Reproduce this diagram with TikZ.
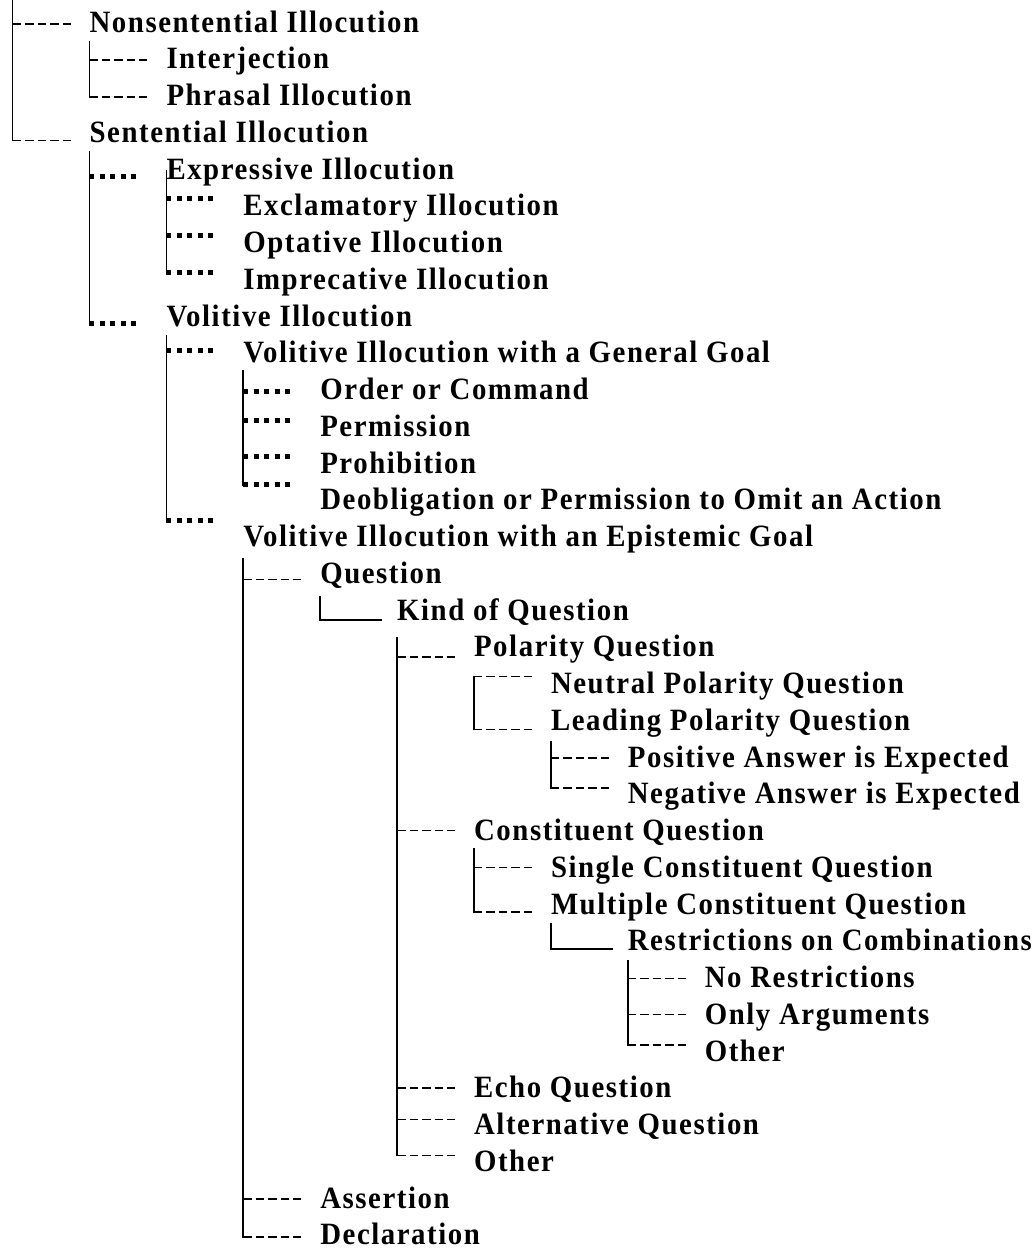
\documentclass[tikz,border=0pt]{standalone}
\usepackage{fontspec}
\newfontfamily\treefont[FakeStretch=0.93, LetterSpace=5]{Liberation Serif}
\usetikzlibrary{calc}

\tikzset{
	item/.style={anchor=base west, inner sep=0pt,
		font=\treefont\bfseries\fontsize{31}{35}\selectfont},
	trunk/.style={line width=1.6pt, line cap=rect},
	dashlink/.style={line width=1.5pt, dash pattern=on 8.5pt off 4pt},
	dotlink/.style={line width=5pt, dash pattern=on 5pt off 5.5pt},
}

% [length]{style}{parent}{child}{height above the child's baseline}
\newcommand{\link}[5][58]{%
	\draw[#2] (#3.base west |- #4.base west) ++(0,-#5) coordinate (#4-in)
		-- ++(#1,0);}

\begin{document}
\begin{tikzpicture}[x=1pt, y=-1pt]
	\def \tab {76.9}
	\def \gap {36.75}

	\useasboundingbox (0,0) rectangle (1035,1251);

	\node[item] (root) at (12.5,0) {};

	\node[item] (nonsent)  at ({\tab*1 + 12.5}, {\gap*0 + 32})  {Nonsentential Illocution};
	\node[item] (interj)   at ({\tab*2 + 12.5}, {\gap*1 + 32})  {Interjection};
	\node[item] (phrasal)  at ({\tab*2 + 12.5}, {\gap*2 + 32})  {Phrasal Illocution};
	\node[item] (sent)     at ({\tab*1 + 12.5}, {\gap*3 + 32})  {Sentential Illocution};
	\node[item] (express)  at ({\tab*2 + 12.5}, {\gap*4 + 32})  {Expressive Illocution};
	\node[item] (exclam)   at ({\tab*3 + 12.5}, {\gap*5 + 32})  {Exclamatory Illocution};
	\node[item] (optat)    at ({\tab*3 + 12.5}, {\gap*6 + 32})  {Optative Illocution};
	\node[item] (imprec)   at ({\tab*3 + 12.5}, {\gap*7 + 32})  {Imprecative Illocution};
	\node[item] (volit)    at ({\tab*2 + 12.5}, {\gap*8 + 32})  {Volitive Illocution};
	\node[item] (general)  at ({\tab*3 + 12.5}, {\gap*9 + 32})  {Volitive Illocution with a General Goal};
	\node[item] (order)    at ({\tab*4 + 12.5}, {\gap*10 + 32}) {Order or Command};
	\node[item] (permit)   at ({\tab*4 + 12.5}, {\gap*11 + 32}) {Permission};
	\node[item] (prohib)   at ({\tab*4 + 12.5}, {\gap*12 + 32}) {Prohibition};
	\node[item] (deoblig)  at ({\tab*4 + 12.5}, {\gap*13 + 32}) {Deobligation or Permission to Omit an Action};
	\node[item] (epist)    at ({\tab*3 + 12.5}, {\gap*14 + 32}) {Volitive Illocution with an Epistemic Goal};
	\node[item] (question) at ({\tab*4 + 12.5}, {\gap*15 + 32}) {Question};
	\node[item] (kind)     at ({\tab*5 + 12.5}, {\gap*16 + 32}) {Kind of Question};
	\node[item] (polar)    at ({\tab*6 + 12.5}, {\gap*17 + 32}) {Polarity Question};
	\node[item] (neutral)  at ({\tab*7 + 12.5}, {\gap*18 + 32}) {Neutral Polarity Question};
	\node[item] (leading)  at ({\tab*7 + 12.5}, {\gap*19 + 32}) {Leading Polarity Question};
	\node[item] (positive) at ({\tab*8 + 12.5}, {\gap*20 + 32}) {Positive Answer is Expected};
	\node[item] (negative) at ({\tab*8 + 12.5}, {\gap*21 + 32}) {Negative Answer is Expected};
	\node[item] (constit)  at ({\tab*6 + 12.5}, {\gap*22 + 32}) {Constituent Question};
	\node[item] (single)   at ({\tab*7 + 12.5}, {\gap*23 + 32}) {Single Constituent Question};
	\node[item] (multiple) at ({\tab*7 + 12.5}, {\gap*24 + 32}) {Multiple Constituent Question};
	\node[item] (restrict) at ({\tab*8 + 12.5}, {\gap*25 + 32}) {Restrictions on Combinations};
	\node[item] (norestr)  at ({\tab*9 + 12.5}, {\gap*26 + 32}) {No Restrictions};
	\node[item] (onlyarg)  at ({\tab*9 + 12.5}, {\gap*27 + 32}) {Only Arguments};
	\node[item] (othercomb) at ({\tab*9 + 12.5}, {\gap*28 + 32}) {Other};
	\node[item] (echo)     at ({\tab*6 + 12.5}, {\gap*29 + 32}) {Echo Question};
	\node[item] (altern)   at ({\tab*6 + 12.5}, {\gap*30 + 32}) {Alternative Question};
	\node[item] (otherkind) at ({\tab*6 + 12.5}, {\gap*31 + 32}) {Other};
	\node[item] (assert)   at ({\tab*4 + 12.5}, {\gap*32 + 32}) {Assertion};
	\node[item] (declar)   at ({\tab*4 + 12.5}, {\gap*33 + 32}) {Declaration};

	% horizontal links
	\link{dashlink}{root}{nonsent}{8}
	\link{dashlink}{root}{sent}{2}
	\link{dashlink}{nonsent}{interj}{9}
	\link{dashlink}{nonsent}{phrasal}{8.5}
	\link[50]{dotlink}{sent}{express}{2.5}
	\link[50]{dotlink}{sent}{volit}{2.5}
	\link[50]{dotlink}{express}{exclam}{17}
	\link[50]{dotlink}{express}{optat}{17}
	\link[50]{dotlink}{express}{imprec}{17}
	\link[50]{dotlink}{volit}{general}{12}
	\link[50]{dotlink}{volit}{epist}{26}
	\link[50]{dotlink}{general}{order}{8}
	\link[50]{dotlink}{general}{permit}{16}
	\link[50]{dotlink}{general}{prohib}{17}
	\link[50]{dotlink}{general}{deoblig}{25}
	\link{dashlink}{epist}{question}{4}
	\link{dashlink}{epist}{assert}{9}
	\link{dashlink}{epist}{declar}{8}
	\link[61]{trunk}{question}{kind}{0}
	\link{dashlink}{kind}{polar}{0}
	\link{dashlink}{kind}{constit}{10}
	\link{dashlink}{kind}{echo}{10}
	\link{dashlink}{kind}{altern}{15}
	\link{dashlink}{kind}{otherkind}{16}
	\link{dashlink}{polar}{neutral}{17}
	\link{dashlink}{polar}{leading}{1}
	\link{dashlink}{leading}{positive}{9}
	\link{dashlink}{leading}{negative}{16}
	\link{dashlink}{constit}{single}{10}
	\link{dashlink}{constit}{multiple}{2}
	\link[61]{trunk}{multiple}{restrict}{2}
	\link{dashlink}{restrict}{norestr}{9}
	\link{dashlink}{restrict}{onlyarg}{10}
	\link{dashlink}{restrict}{othercomb}{16}

	% vertical trunks
	\draw[trunk] (root.base west) -- (sent-in);
	\draw[trunk] (nonsent.base west) ++(0,10) -- (phrasal-in);
	\draw[trunk] (sent.base west) ++(0,10) -- (volit-in);
	\draw[trunk] (express.base west) ++(0,-8) -- (imprec-in);
	\draw[trunk] (volit.base west) ++(0,10) -- (epist-in);
	\draw[trunk] (general.base west) ++(0,8) -- (deoblig-in);
	\draw[trunk] (epist.base west) ++(0,12) -- (declar-in);
	\draw[trunk] (question.base west) ++(0,14) -- (kind-in);
	\draw[trunk] (kind.base west) ++(0,18) -- (otherkind-in);
	\draw[trunk] (neutral-in) -- (leading-in);
	\draw[trunk] (leading.base west) ++(0,12) -- (negative-in);
	\draw[trunk] (constit.base west) ++(0,8) -- (multiple-in);
	\draw[trunk] (multiple.base west) ++(0,10) -- (restrict-in);
	\draw[trunk] (restrict.base west) ++(0,10) -- (othercomb-in);
\end{tikzpicture}
\end{document}
